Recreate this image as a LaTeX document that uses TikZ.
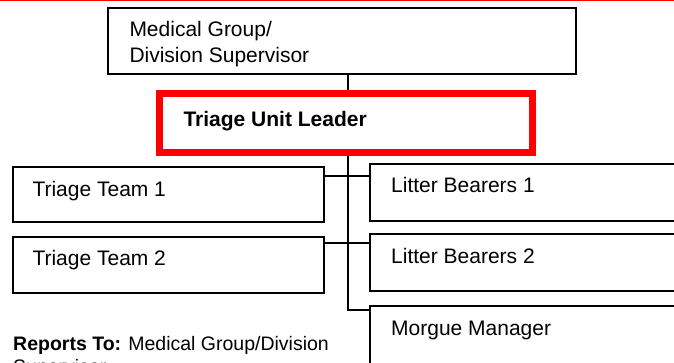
\documentclass[tikz,border=0pt]{standalone}
\usepackage{fontspec}
\setmainfont{Liberation Sans}
\usetikzlibrary{backgrounds}
\begin{document}
\begin{tikzpicture}[x=1pt,y=-1pt,
  box/.style={draw=black,line width=2pt,rectangle,inner sep=0pt,fill=white},
  leadbox/.style={draw=red,line width=7pt,rectangle,inner sep=0pt,fill=white},
  txt/.style={anchor=base west,inner sep=0pt,align=left,
    font=\fontsize{21}{26.5}\selectfont},
  note/.style={anchor=base west,inner sep=0pt,align=left,
    font=\fontsize{19.5}{23.5}\selectfont},
  link/.style={draw=black,line width=2pt}
]
\useasboundingbox (0,0) rectangle (674,362);
\clip (0,0) rectangle (674,362);

% red rule along the top edge
\draw[red,line width=1.2pt] (0,0.6) -- (674,0.6);

% boxes
\node[box,minimum width=468pt,minimum height=66pt] (med) at (342,41) {};
\node[leadbox,minimum width=372.6pt,minimum height=58.2pt] (lead) at (346,122.9) {};
\node[box,minimum width=311pt,minimum height=55.5pt] (tt1) at (168,194.25) {};
\node[box,minimum width=311pt,minimum height=56.5pt] (tt2) at (168,264.75) {};
\node[box,minimum width=350pt,minimum height=57pt] (lb1) at (545,192.5) {};
\node[box,minimum width=350pt,minimum height=57pt] (lb2) at (545,262.5) {};
\node[box,minimum width=350pt,minimum height=94pt] (mm) at (545,353) {};

% texts (multi-line nodes sit on the baseline of their last line)
\node[txt] (medtxt) at (129.3,62.5) {Medical Group/\\Division Supervisor};
\node[txt] (leadtxt) at (183.3,126.7) {\textbf{Triage Unit Leader}};
\node[txt] (tt1txt) at (32.3,196.7) {Triage Team 1};
\node[txt] (tt2txt) at (32.3,265) {Triage Team 2};
\node[txt] (lb1txt) at (391,192.3) {Litter Bearers 1};
\node[txt] (lb2txt) at (391,263.3) {Litter Bearers 2};
\node[txt] (mmtxt) at (391,335) {Morgue Manager};
\node[note] (rep) at (13,373.5)
  {\textbf{Reports To:} Medical Group/Division\\Supervisor};

% junction points on the trunk line
\coordinate (j1) at (348,175.7);
\coordinate (j2) at (348,243.3);
\coordinate (mj) at (348,310);

% connectors
\begin{pgfonlayer}{background}
\draw[link] (med.south -| mj) -- (lead.north -| mj);
\draw[link] (lead.south -| mj) -- (mj) -- (mj -| mm.west);
\draw[link] (j1 -| tt1.east) -- (j1 -| lb1.west);
\draw[link] (j2 -| tt2.east) -- (j2 -| lb2.west);
\end{pgfonlayer}
\end{tikzpicture}
\end{document}
